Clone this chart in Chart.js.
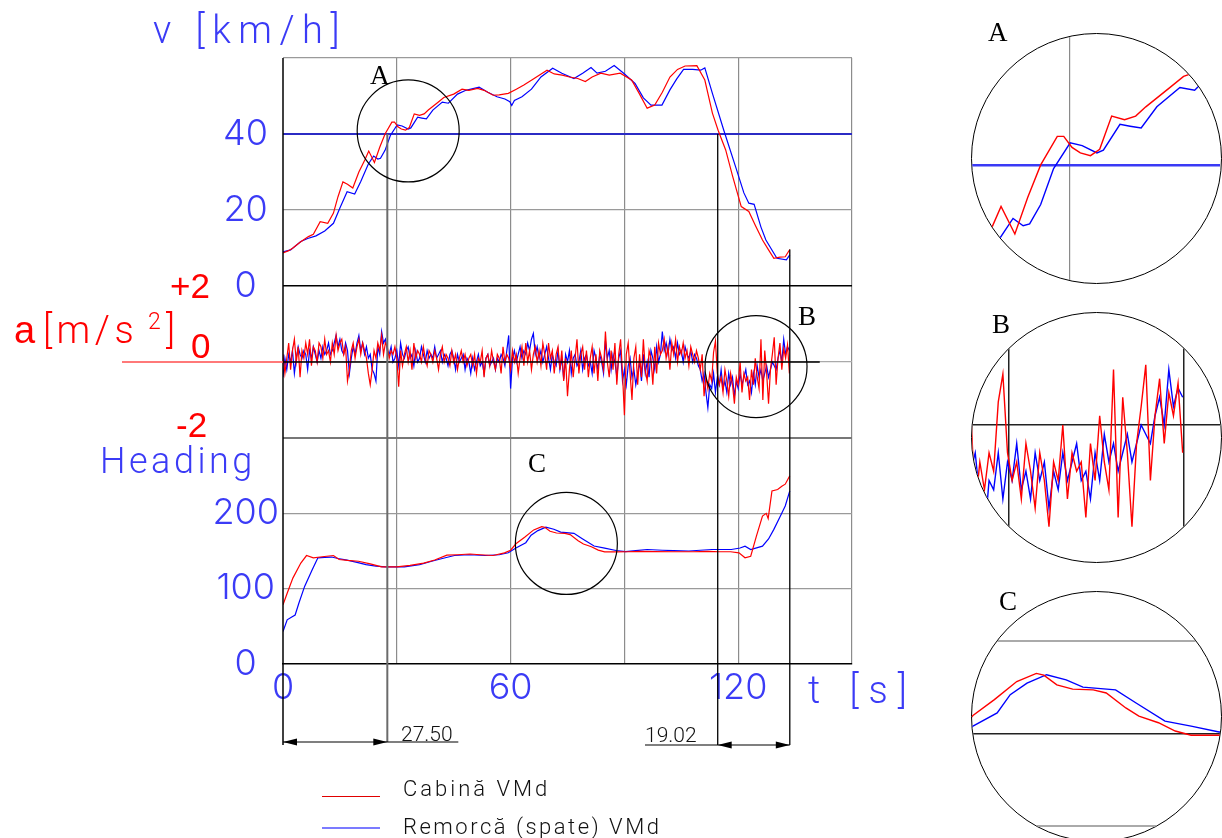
<!DOCTYPE html>
<html>
<head>
<meta charset="utf-8">
<script src="https://cdn.jsdelivr.net/npm/chart.js@4.4.1/dist/chart.umd.min.js"></script>
<style>
html, body { margin: 0; padding: 0; background: #fff; }
body { width: 1222px; height: 838px; position: relative; overflow: hidden; }
#main { position: absolute; left: 0; top: 0; }
.t { position: absolute; white-space: nowrap; line-height: 1; }
.thin { font-family: Roboto, 'DejaVu Sans', sans-serif; font-weight: 300; }
.sans { font-family: 'Liberation Sans', Arial, sans-serif; }
.blue { color: #3b3bf6; }
.red { color: #ff0000; }
.ink { color: #111; }
.serif { font-family: 'Liberation Serif', 'DejaVu Serif', serif; color: #000; font-size: 27px; }
.lens { position: absolute; left: 971px; width: 251px; height: 251px; border: 1.5px solid #000;
        border-radius: 50%; overflow: hidden; box-sizing: border-box; background: #fff; }
.lens canvas { display: block; }
.key { position: absolute; left: 322px; width: 58px; height: 0; }
</style>
</head>
<body>
<canvas id="main" width="960" height="838"></canvas>
<div class="lens" style="top:33px"><canvas id="lensA" width="248" height="248"></canvas></div>
<div class="lens" style="top:312px"><canvas id="lensB" width="248" height="248"></canvas></div>
<div class="lens" style="top:591px"><canvas id="lensC" width="248" height="248"></canvas></div>

<div class="t thin blue" style="left:153px;top:11px;font-size:38px;letter-spacing:7.5px">v [km/h]</div>
<div class="t sans red" style="left:170px;top:268px;font-size:35px">+2</div>
<div class="t sans red" style="left:14px;top:311px;font-size:38px">a</div>
<div class="t thin red" style="left:43px;top:311px;font-size:38px;letter-spacing:4.5px">[m/s</div>
<div class="t thin red" style="left:148px;top:310px;font-size:23px">2</div>
<div class="t thin red" style="left:166px;top:311px;font-size:38px">]</div>
<div class="t sans red" style="left:191px;top:328px;font-size:35px">0</div>
<div class="t sans red" style="left:176px;top:407px;font-size:35px">-2</div>
<div class="t thin blue" style="left:100px;top:443px;font-size:36px;letter-spacing:3.5px">Heading</div>
<div class="t thin blue" style="left:808px;top:671px;font-size:38px;letter-spacing:10px">t [s]</div>
<div class="t thin ink" style="left:401px;top:724px;font-size:21px">27.50</div>
<div class="t thin ink" style="left:645px;top:725px;font-size:21px">19.02</div>

<div class="t serif" style="left:370px;top:62px">A</div>
<div class="t serif" style="left:798px;top:303px">B</div>
<div class="t serif" style="left:528px;top:450px">C</div>
<div class="t serif" style="left:988px;top:19px">A</div>
<div class="t serif" style="left:992px;top:311px">B</div>
<div class="t serif" style="left:999px;top:588px">C</div>

<div class="key" style="top:796px;border-top:1.5px solid #e00000"></div>
<div class="t thin ink" style="left:403px;top:778px;font-size:22px;letter-spacing:3px">Cabină VMd</div>
<div class="key" style="top:827px;border-top:2px solid #7b7bff"></div>
<div class="t thin ink" style="left:403px;top:816px;font-size:22px;letter-spacing:2.5px">Remorcă (spate) VMd</div>

<script>
// speed [km/h]
const tVelRed = [0, 1.5, 2.6, 4.5, 6.7, 8, 9.8, 11.8, 13.3, 14.5, 15.8, 17, 18.4, 20, 21.6, 22.6, 24.1, 25.5, 26.9, 28.7,
  29.4, 30.3, 31.2, 32.3, 33.3, 34.6, 36, 37.2, 38.3, 40.8, 42.4, 45, 47.2, 49, 51.3, 53, 55.4, 57, 59.4, 61.5,
  63.5, 66, 69.6, 71.5, 73.6, 75.5, 77.7, 79.7, 81.5, 83.8, 86, 88.9, 91.9, 94, 96, 98, 100, 102, 104, 106,
  109.1, 111.2, 113.2, 114.7, 116.7, 118.5, 120.8, 122.8, 124.5, 126.4, 128, 129.4, 131, 132.4, 133.6];
const velRed = [8.7, 9.3, 10.0, 11.5, 13.0, 13.6, 16.9, 16.5, 19.2, 23.5, 27.4, 26.8, 25.8, 30.0, 33.2, 35.5, 32.5, 36.5, 40.0, 43.1,
  43.1, 41.9, 41.3, 41.0, 41.7, 45.3, 44.9, 45.3, 46.3, 48.3, 49.6, 50.5, 51.8, 51.5, 52.0, 51.5, 50.2, 50.3, 50.7, 51.8,
  52.9, 54.5, 56.8, 55.8, 55.5, 55.0, 54.6, 53.8, 55.0, 56.0, 55.5, 56.0, 54.2, 50.5, 46.8, 47.6, 51.0, 55.0, 57.0, 57.9,
  58.0, 54.2, 45.5, 41.0, 35.8, 29.0, 20.9, 19.6, 16.0, 12.1, 9.5, 7.3, 7.6, 7.7, 9.6];
const tVelBlue = [0, 2, 4.7, 6.5, 8.7, 11, 13.3, 15, 16.9, 18.9, 20.5, 22.5, 23.9, 25.0, 25.7, 26.9, 28.3, 30.1, 31.4, 33.0,
  33.7, 35.5, 36.6, 37.8, 39.5, 42.0, 43.6, 46, 48.2, 51.7, 54, 56.4, 58.5, 59.8, 60.3, 61, 63, 65.5, 68, 71.1,
  73.5, 76.7, 79, 81.2, 82.8, 85, 87.3, 89.8, 92.8, 95, 97, 99.9, 102, 103.8, 105.6, 108, 110.1, 111.2, 113.2, 116.2,
  119.3, 121.5, 122.8, 124.2, 126, 127.3, 130.2, 132.7, 133.6];
const velBlue = [9.0, 9.5, 11.7, 12.5, 13.2, 14.5, 16.5, 20.5, 24.8, 24.2, 27.5, 32.1, 34.2, 33.4, 33.6, 35.7, 39.6, 42.4, 42.1, 41.3,
  41.6, 44.4, 44.2, 44.0, 46.3, 48.4, 48.1, 50.5, 51.5, 52.3, 51.0, 49.8, 49.2, 48.5, 47.5, 48.8, 49.8, 51.8, 55.0, 57.3,
  56.0, 54.6, 56.0, 57.5, 56.0, 56.5, 58.0, 56.0, 53.3, 49.5, 47.6, 47.6, 51.6, 54.5, 57.0, 57.0, 56.8, 57.4, 50.7, 41.0,
  31.4, 24.5, 21.8, 21.5, 15.5, 12.1, 7.3, 6.9, 8.2];

// acceleration [m/s2], one value every half second from t = 0
const accStep = 0.5;
const accRed = [
  0.2, -0.3, 0.1, 0.5, -0.2, 0.3, 0.6, 0.0, 0.4, -0.4, 0.3, 0.1, 0.5, 0.2, 0.6, -0.1, 0.4, 0.3, 0.0, 0.5,
  0.4, 0.1, 0.6, 0.2, 0.3, 0.0, 0.5, 0.2, 0.7, 0.3, 0.5, 0.6, 0.2, 0.4, -0.5, -0.2, 0.3, 0.5, 0.1, 0.4,
  0.6, 0.2, 0.5, 0.3, 0.1, -0.3, -0.6, -0.2, 0.3, 0.1, 0.5, 0.3, 0.7, 0.2, 0.5, 0.4, 0.1, 0.3, 0.2, 0.4,
  0.1, -0.65, 0.3, -0.1, 0.2, 0.4, 0.0, 0.3, -0.2, 0.5, 0.1, 0.3, 0.2, 0.0, 0.4, 0.1, -0.1, 0.3, 0.2, 0.0,
  0.3, 0.1, -0.2, 0.2, 0.4, 0.0, 0.2, 0.1, -0.1, 0.3, 0.0, 0.2, -0.2, 0.1, 0.3, 0.0, 0.2, -0.1, 0.1, 0.2,
  -0.1, 0.2, -0.3, 0.1, 0.0, 0.3, -0.4, 0.1, 0.2, -0.1, 0.3, 0.0, -0.2, 0.2, 0.1, -0.3, 0.4, 0.0, 0.2, 0.1,
  -0.2, 0.3, 0.0, 0.2, -0.3, 0.1, 0.4, -0.1, 0.5, 0.0, 0.3, -0.2, 0.2, 0.4, 0.0, 0.3, -0.1, 0.5, 0.2, -0.2,
  0.5, 0.1, 0.3, -0.3, 0.2, 0.4, -0.2, 0.3, -0.5, 0.1, -0.9, -0.2, 0.3, -0.4, 0.1, 0.6, -0.3, 0.2, 0.4, -0.2,
  0.3, -0.4, 0.1, 0.4, -0.3, 0.2, -0.5, 0.3, 0.1, -0.2, 0.8, 0.0, -0.4, 0.3, -0.2, 0.5, -0.6, 0.2, 0.6, -0.3,
  -1.4, 0.2, 0.5, -0.3, -1.0, 0.1, 0.4, -0.6, 0.2, -0.4, 0.6, -0.2, -0.5, 0.3, 0.1, -0.6, 0.4, -0.3, 0.5, 0.2,
  0.3, 0.6, 0.1, 0.4, -0.2, 0.5, 0.2, 0.6, 0.0, 0.4, 0.2, 0.5, 0.1, 0.3, -0.1, 0.4, 0.2, 0.0, 0.3, 0.1,
  -0.2, 0.2, -0.9, -0.4, -0.7, -0.3, -0.5, 0.25, 0.55, -0.3, -0.6, -0.4, -0.8, -0.2, -0.5, -0.9, -0.3, -0.6, -1.1, -0.4,
  -0.6, 0.0, -0.8, -0.3, -0.5, -0.4, -1.0, -0.2, -0.6, 0.1, -0.4, -0.7, 0.6, -1.0, 0.3, -0.3, -1.1, -0.2, 0.2, 0.65,
  -0.6, 0.1, 0.5, -0.2, 0.35, 0.1, 0.45, -0.3];
const accBlue = [
  -0.4, 0.1, -0.2, 0.2, 0.0, 0.3, -0.3, 0.1, 0.4, 0.2, 0.1, 0.3, 0.2, -0.2, 0.3, 0.1, 0.4, 0.2, 0.0, 0.3,
  0.1, 0.4, 0.2, 0.3, 0.5, 0.2, 0.3, 0.5, 0.7, 0.4, 0.6, 0.3, 0.2, 0.5, 0.3, -0.3, 0.1, 0.4, 0.2, 0.5,
  0.7, 0.3, 0.5, 0.2, 0.4, 0.1, 0.2, -0.2, -0.3, -0.5, 0.4, 0.2, 0.8, 0.5, 0.6, 0.3, 0.2, 0.4, 0.0, 0.1,
  0.3, -0.1, 0.5, 0.2, 0.1, 0.3, 0.4, 0.1, 0.2, -0.1, 0.3, 0.0, 0.1, 0.4, 0.2, 0.0, 0.3, 0.1, 0.2, 0.1,
  0.4, 0.1, 0.2, 0.3, 0.0, 0.2, 0.1, -0.1, 0.2, 0.3, 0.1, -0.2, 0.2, 0.0, 0.1, 0.2, -0.2, 0.1, 0.0, -0.3,
  0.1, -0.2, 0.0, 0.2, -0.1, 0.0, -0.3, 0.1, 0.2, -0.1, 0.0, 0.1, -0.2, 0.1, 0.0, 0.2, 0.1, -0.1, 0.3, 0.7,
  -0.7, 0.1, 0.3, 0.0, 0.2, 0.4, 0.1, 0.3, 0.2, 0.5, 0.3, 0.6, 0.75, 0.2, 0.4, 0.1, 0.3, 0.0, 0.2, 0.4,
  0.1, -0.2, 0.2, 0.0, -0.1, 0.3, -0.2, 0.1, -0.45, 0.2, 0.0, 0.3, -0.3, 0.1, 0.2, -0.1, 0.0, 0.3, -0.2, 0.1,
  0.2, -0.1, 0.0, -0.3, 0.3, 0.1, -0.2, 0.2, 0.0, -0.3, 0.55, 0.1, 0.3, -0.2, 0.2, 0.0, -0.4, 0.1, 0.3, -0.5,
  -0.2, -0.6, -0.1, 0.1, -0.4, -0.2, -0.6, -0.3, 0.0, -0.5, 0.2, -0.3, 0.0, -0.4, 0.3, 0.1, -0.2, 0.4, 0.0, 0.2,
  0.8, 0.3, 0.5, 0.2, 0.6, 0.3, 0.4, 0.1, 0.5, 0.2, 0.3, 0.0, 0.4, 0.2, 0.1, 0.3, 0.0, 0.2, 0.1, -0.1,
  -0.2, -0.5, -0.3, -0.8, -1.2, -0.6, -0.7, -0.3, -0.8, -0.4, -0.6, -0.2, -0.7, -0.5, -0.8, -0.3, -0.6, -0.4, -0.9, -0.5,
  -0.7, -0.3, -0.6, -0.4, -0.2, -0.6, -0.5, -0.8, -0.3, -0.6, -0.1, -0.4, -0.2, -0.5, -0.3, -0.1, -0.4, -0.2, 0.0, -0.1,
  -0.2, 0.1, 0.3, 0.0, 0.6, 0.2, 0.4, 0.3];

// heading [deg]
const tHeadRed = [0, 1.1, 2.6, 4.7, 6.2, 8, 9.8, 11.5, 13.3, 14.8, 17, 19.9, 23, 26, 30, 33.5, 37.1, 40, 43.2, 46,
  49.3, 52, 55.4, 58.4, 60, 61.4, 63.7, 66.1, 68.2, 69, 70.4, 72.1, 74.3, 75.7, 77.8, 79.2, 81.3, 83.1, 84.8, 87.6,
  90.8, 94, 98, 103, 108.1, 112, 115.2, 118, 120.2, 121.8, 123.3, 124.8, 126.4, 127.4, 127.9, 128.9, 130.4, 131.5, 132.4, 133.6];
const headRed = [78.7, 94, 114, 134, 144, 141, 142, 143, 144, 138.7, 137.5, 136.4, 133, 129, 129, 131, 134, 138, 144.4, 145,
  146, 145, 144, 147.6, 151, 159.6, 168.2, 178, 182.4, 181.5, 176.2, 173.9, 173.5, 171.8, 163.7, 159.3, 155.7, 151.2, 148.9, 148.9,
  149, 149.5, 149.3, 149, 149, 149.5, 149, 149, 147.6, 141, 143, 169.8, 196.4, 200, 193, 229.8, 231.6, 236, 238.7, 250];
const tHeadBlue = [0, 1.1, 2.2, 3.2, 4.2, 5.7, 7.7, 9.2, 11, 12.8, 14.5, 16.9, 19.5, 21.9, 24.5, 27, 32, 36, 39.2, 42,
  45.2, 49, 53.3, 57, 59.4, 61.4, 64, 65.4, 67.2, 69.3, 71.4, 73.2, 76.7, 78.9, 82, 84.8, 87.8, 90.3, 93, 96,
  100, 103, 107, 110, 113.1, 118.2, 120.5, 121.8, 123.3, 126.4, 128, 129.4, 131, 132.4, 133.6];
const headBlue = [43, 58.7, 62, 65, 81, 103, 125, 141, 141.5, 142, 140, 137.8, 135, 132, 130, 129, 129, 132, 136.4, 140,
  144, 145, 144, 145, 147.6, 153.9, 161, 170.9, 177.1, 181.7, 178.9, 175, 173.5, 166.4, 156.6, 153.9, 150.7, 149.3, 150.5, 152,
  151, 150.4, 150, 151, 152, 152, 154, 156.4, 152, 156.4, 166, 178.7, 195, 209.8, 229.8];

// tick labels and the two measured instants
const velTicks = [0, 20, 40];
const headTicks = [0, 100, 200];
const timeTicks = [0, 60, 120];
const markerTimes = [27.5, 114.6, 133.6];

const RED = '#ff0000';
const BLUE = '#0000ff';
const LABEL_BLUE = '#3b3bf6';
const tickFont = { family: 'Inter', weight: '300', size: 36, lineHeight: 1.2 };

const pts = (ts, vs) => vs.map((v, i) => ({ x: ts[i], y: v }));
const halfSec = vs => vs.map((v, i) => ({ x: i * accStep, y: v }));
const trace = (data, color, axis, w) => ({
  data, borderColor: color, borderWidth: w || 1.2, pointRadius: 0, tension: 0, yAxisID: axis, xAxisID: 'x'
});

const overlay = {
  id: 'overlay',
  afterDraw(chart) {
    const { ctx, chartArea: ca } = chart;
    const { x, yV, yA, yH } = chart.scales;
    const seg = (x1, y1, x2, y2, color, w) => {
      ctx.beginPath();
      ctx.moveTo(x1, y1);
      ctx.lineTo(x2, y2);
      ctx.strokeStyle = color;
      ctx.lineWidth = w;
      ctx.stroke();
    };
    const arrow = (px, py, dir) => {
      ctx.beginPath();
      ctx.moveTo(px, py);
      ctx.lineTo(px - dir * 14, py - 3.5);
      ctx.lineTo(px - dir * 14, py + 3.5);
      ctx.closePath();
      ctx.fillStyle = '#000';
      ctx.fill();
    };
    ctx.save();
    seg(ca.left, ca.top, ca.left, 745, '#000', 1.5);

    const y0 = yA.getPixelForValue(0);
    seg(122, y0, ca.left, y0, '#ff4d4d', 1.5);
    seg(ca.left, y0, x.getPixelForValue(141.5), y0, '#000', 1.3);

    const [m1, m2, m3] = markerTimes.map(t => x.getPixelForValue(t));
    seg(m1, yV.getPixelForValue(40), m1, 742, '#6b6b6b', 2);
    seg(m2, yV.getPixelForValue(40), m2, 745, '#000', 1.3);
    seg(m3, yV.getPixelForValue(velRed[velRed.length - 1]), m3, 745, '#000', 1.3);

    seg(ca.left, 742, m1 + 71, 742, '#000', 1.2);
    arrow(ca.left, 742, -1);
    arrow(m1, 742, 1);
    seg(645, 745, m3, 745, '#000', 1.2);
    arrow(m2, 745, -1);
    arrow(m3, 745, 1);

    const lenses = [
      [x.getPixelForValue(33), yV.getPixelForValue(40.8)],
      [x.getPixelForValue(124.7), yA.getPixelForValue(-0.12)],
      [x.getPixelForValue(74.7), yH.getPixelForValue(160)]
    ];
    lenses.forEach(([cx, cy]) => {
      ctx.beginPath();
      ctx.arc(cx, cy, 51, 0, Math.PI * 2);
      ctx.strokeStyle = '#000';
      ctx.lineWidth = 1.2;
      ctx.stroke();
    });
    ctx.restore();
  }
};

new Chart(document.getElementById('main'), {
  type: 'line',
  data: {
    datasets: [
      trace(pts(tVelRed, velRed), RED, 'yV'),
      trace(pts(tVelBlue, velBlue), BLUE, 'yV'),
      trace(halfSec(accRed), RED, 'yA'),
      trace(halfSec(accBlue), BLUE, 'yA'),
      trace(pts(tHeadRed, headRed), RED, 'yH'),
      trace(pts(tHeadBlue, headBlue), BLUE, 'yH')
    ]
  },
  options: {
    responsive: false,
    animation: false,
    devicePixelRatio: 1,
    layout: { padding: { left: 0, top: 58, right: 108, bottom: 0 } },
    plugins: { legend: { display: false }, tooltip: { enabled: false } },
    scales: {
      x: {
        type: 'linear', position: 'bottom', min: 0, max: 150,
        afterFit: s => { s.height = 174; },
        ticks: {
          stepSize: 30, color: LABEL_BLUE, font: tickFont, padding: 3, maxRotation: 0, autoSkip: false,
          callback: v => timeTicks.includes(v) ? String(v) : ''
        },
        grid: {
          drawTicks: false,
          color: c => c.tick.value === 0 ? 'rgba(0,0,0,0)' : '#8c8c8c',
          lineWidth: 1.2
        },
        border: { display: true, color: '#000', width: 1.5 }
      },
      yV: {
        type: 'linear', position: 'left', stack: 'panels', stackWeight: 228, weight: 3,
        min: 0, max: 60,
        afterFit: s => { s.width = 283; },
        ticks: {
          stepSize: 20, color: LABEL_BLUE, font: tickFont, padding: 15, crossAlign: 'center',
          callback: v => velTicks.includes(v) ? String(v) : ''
        },
        grid: {
          drawTicks: false,
          color: c => c.tick.value === 0 ? '#000' : (c.tick.value === 40 ? '#2b2bc4' : '#9a9a9a'),
          lineWidth: c => c.tick.value === 40 ? 2 : (c.tick.value === 0 ? 1.5 : 1.2)
        },
        border: { display: false }
      },
      yA: {
        type: 'linear', position: 'left', stack: 'panels', stackWeight: 152, weight: 2,
        min: -2, max: 2,
        afterFit: s => { s.width = 283; },
        ticks: { stepSize: 2, display: false },
        grid: {
          drawTicks: false,
          color: c => c.tick.value === 0 ? '#aaaaaa' : 'rgba(0,0,0,0)',
          lineWidth: 1.2
        },
        border: { display: false }
      },
      yH: {
        type: 'linear', position: 'left', stack: 'panels', stackWeight: 226, weight: 1,
        min: 0, max: 300,
        afterFit: s => { s.width = 283; },
        ticks: {
          stepSize: 50, color: LABEL_BLUE, font: tickFont, padding: 4, crossAlign: 'center',
          callback: v => headTicks.includes(v) ? String(v) : ''
        },
        grid: {
          drawTicks: false,
          color: c => {
            const v = c.tick.value;
            if (v === 150) return '#333';
            if (v === 100 || v === 200) return '#9a9a9a';
            if (v === 300) return '#777';
            return 'rgba(0,0,0,0)';
          },
          lineWidth: c => c.tick.value === 300 ? 2 : 1.3
        },
        border: { display: false }
      }
    }
  },
  plugins: [overlay]
});

// magnified views A, B, C
function lens(id, xMin, xMax, yMin, yMax, datasets, xLines, yLines) {
  const grid = lines => ({
    drawTicks: false,
    color: c => lines[c.index] ? lines[c.index].color : 'rgba(0,0,0,0)',
    lineWidth: c => lines[c.index] ? lines[c.index].width : 0
  });
  new Chart(document.getElementById(id), {
    type: 'line',
    data: { datasets },
    options: {
      responsive: false,
      animation: false,
      devicePixelRatio: 1,
      layout: { padding: 0 },
      plugins: { legend: { display: false }, tooltip: { enabled: false } },
      scales: {
        x: {
          type: 'linear', min: xMin, max: xMax,
          ticks: { display: false }, border: { display: false }, grid: grid(xLines),
          afterBuildTicks: s => { s.ticks = xLines.map(l => ({ value: l.value })); }
        },
        y: {
          type: 'linear', min: yMin, max: yMax,
          ticks: { display: false }, border: { display: false }, grid: grid(yLines),
          afterBuildTicks: s => { s.ticks = yLines.map(l => ({ value: l.value })); }
        }
      }
    }
  });
}

const inset = (data, color) => ({ data, borderColor: color, borderWidth: 1.4, pointRadius: 0, tension: 0 });

lens('lensA', 19.45, 46.35, 27.3, 54.2,
  [inset(pts(tVelRed, velRed), RED), inset(pts(tVelBlue, velBlue), BLUE)],
  [{ value: 30, color: '#8a8a8a', width: 1.2 }],
  [{ value: 40, color: '#3a3af5', width: 2.4 }]);

lens('lensB', 110.65, 137.55, -1.47, 1.21,
  [inset(halfSec(accRed), RED), inset(halfSec(accBlue), BLUE)],
  markerTimes.slice(1).map(v => ({ value: v, color: '#222', width: 1.5 })),
  [{ value: 0, color: '#222', width: 1.5 }]);

lens('lensC', 61.3, 87.9, 92.2, 226.5,
  [inset(pts(tHeadRed, headRed), RED), inset(pts(tHeadBlue, headBlue), BLUE)],
  [],
  [{ value: 100, color: '#aaaaaa', width: 2 }, { value: 150, color: '#222', width: 1.5 }, { value: 200, color: '#aaaaaa', width: 2 }]);
</script>
</body>
</html>
